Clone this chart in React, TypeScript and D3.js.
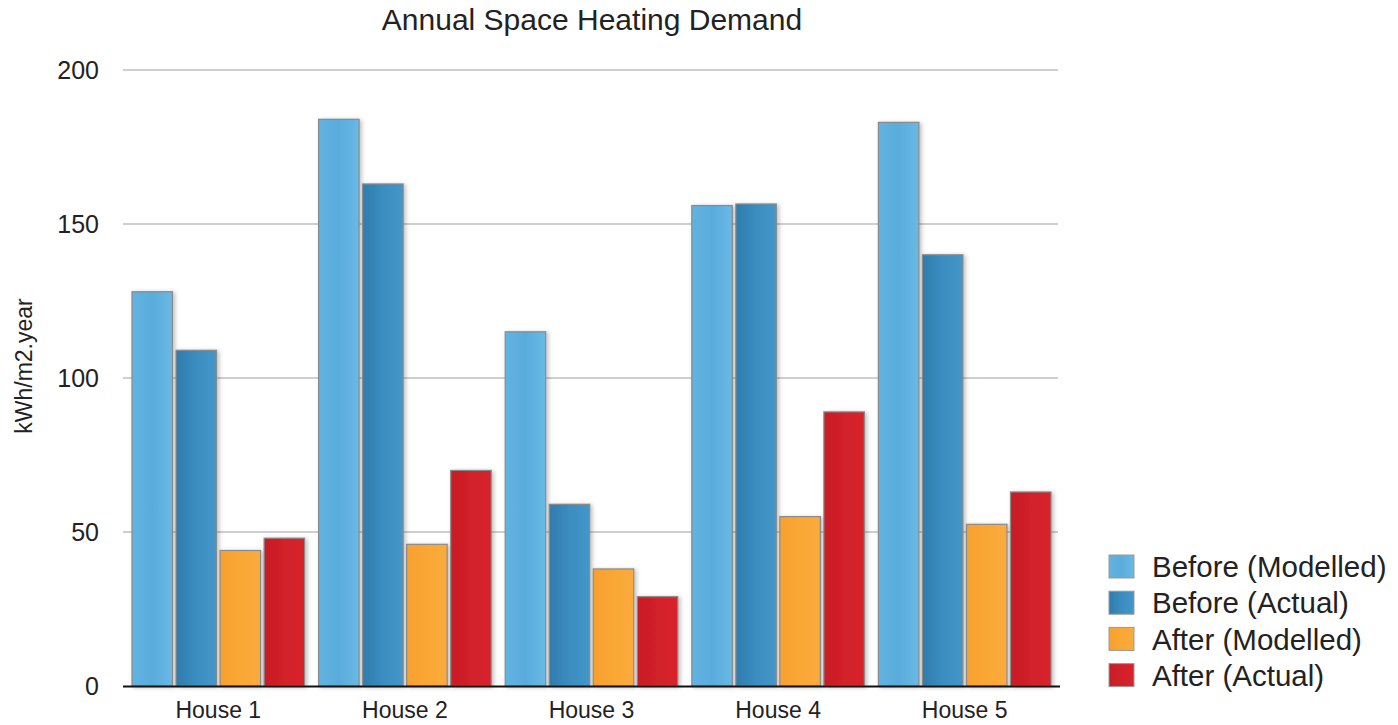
import React from "react";
import * as d3 from "d3";

const houses = ["House 1", "House 2", "House 3", "House 4", "House 5"];
const seriesNames = ["Before (Modelled)", "Before (Actual)", "After (Modelled)", "After (Actual)"];
const beforeModelled = [128, 184, 115, 156, 183];
const beforeActual = [109, 163, 59, 156.5, 140];
const afterModelled = [44, 46, 38, 55, 52.5];
const afterActual = [48, 70, 29, 89, 63];
const yTicks = [0, 50, 100, 150, 200];

const seriesValues = [beforeModelled, beforeActual, afterModelled, afterActual];
const seriesGradients = [
  ["#62b3e1", "#59acdc", "#6ab9e5"],
  ["#2f7cad", "#3b8dc0", "#4596c8"],
  ["#f7a02f", "#f9a736", "#fbab3c"],
  ["#c81d26", "#d22029", "#d8232b"],
];

const W = 1398;
const H = 725;
const plotLeft = 125;
const plotRight = 1058;
const plotTop = 70;
const plotBottom = 686;
const FONT = "'Liberation Sans', Arial, Helvetica, sans-serif";

export default function App() {
  const x0 = d3.scaleBand<string>().domain(houses).range([plotLeft, plotRight]).padding(0);
  const x1 = d3
    .scaleBand<number>()
    .domain(d3.range(seriesNames.length))
    .range([7, x0.bandwidth() - 7])
    .paddingInner(0.08)
    .paddingOuter(0);
  const y = d3.scaleLinear().domain([0, 200]).range([plotBottom, plotTop]);

  return (
    <svg
      width={W}
      height={H}
      viewBox={`0 0 ${W} ${H}`}
      style={{ position: "absolute", left: 0, top: 0, background: "#fff", display: "block" }}
    >
      <defs>
        {seriesGradients.map((stops, i) => (
          <linearGradient key={i} id={`grad${i}`} x1="0" x2="1" y1="0" y2="0">
            <stop offset="0%" stopColor={stops[0]} />
            <stop offset="50%" stopColor={stops[1]} />
            <stop offset="100%" stopColor={stops[2]} />
          </linearGradient>
        ))}
        <filter id="barShadow" x="-20%" y="-5%" width="150%" height="115%">
          <feDropShadow dx="2" dy="1" stdDeviation="2" floodColor="#000" floodOpacity="0.25" />
        </filter>
      </defs>

      <text x={592} y={30} textAnchor="middle" fontFamily={FONT} fontSize={30} fill="#222">
        Annual Space Heating Demand
      </text>

      {/* horizontal grid lines and tick labels */}
      {yTicks.map((t) => (
        <g key={t}>
          {t > 0 && (
            <line x1={plotLeft - 2} x2={plotRight} y1={y(t)} y2={y(t)} stroke="#cfcfcf" strokeWidth={2} />
          )}
          <text
            x={99}
            y={y(t)}
            dy="0.36em"
            textAnchor="end"
            fontFamily={FONT}
            fontSize={25}
            fill="#222"
          >
            {t}
          </text>
        </g>
      ))}

      <text
        transform={`translate(24,${366}) rotate(-90)`}
        textAnchor="middle"
        dy="0.36em"
        fontFamily={FONT}
        fontSize={23}
        fill="#222"
      >
        kWh/m2.year
      </text>

      {/* bars */}
      {houses.map((h, hi) => (
        <g key={h} transform={`translate(${x0(h)},0)`}>
          {seriesValues.map((vals, si) => {
            const v = vals[hi];
            return (
              <rect
                key={si}
                x={x1(si)}
                y={y(v)}
                width={x1.bandwidth()}
                height={plotBottom - y(v)}
                fill={`url(#grad${si})`}
                stroke="#8a8a8a"
                strokeWidth={1.2}
                filter="url(#barShadow)"
              />
            );
          })}
          <text
            x={x0.bandwidth() / 2}
            y={718}
            textAnchor="middle"
            fontFamily={FONT}
            fontSize={23}
            fill="#222"
          >
            {h}
          </text>
        </g>
      ))}

      <line x1={plotLeft - 2} x2={plotRight + 2} y1={plotBottom + 0.5} y2={plotBottom + 0.5} stroke="#111" strokeWidth={2} />

      {/* legend */}
      {seriesNames.map((name, i) => {
        const cy = 566.5 + i * 36.2;
        return (
          <g key={name}>
            <rect
              x={1109}
              y={cy - 11.5}
              width={25}
              height={23}
              fill={`url(#grad${i})`}
              stroke="#999"
              strokeWidth={1}
            />
            <text x={1152} y={cy} dy="0.36em" fontFamily={FONT} fontSize={29.5} fill="#222">
              {name}
            </text>
          </g>
        );
      })}
    </svg>
  );
}
